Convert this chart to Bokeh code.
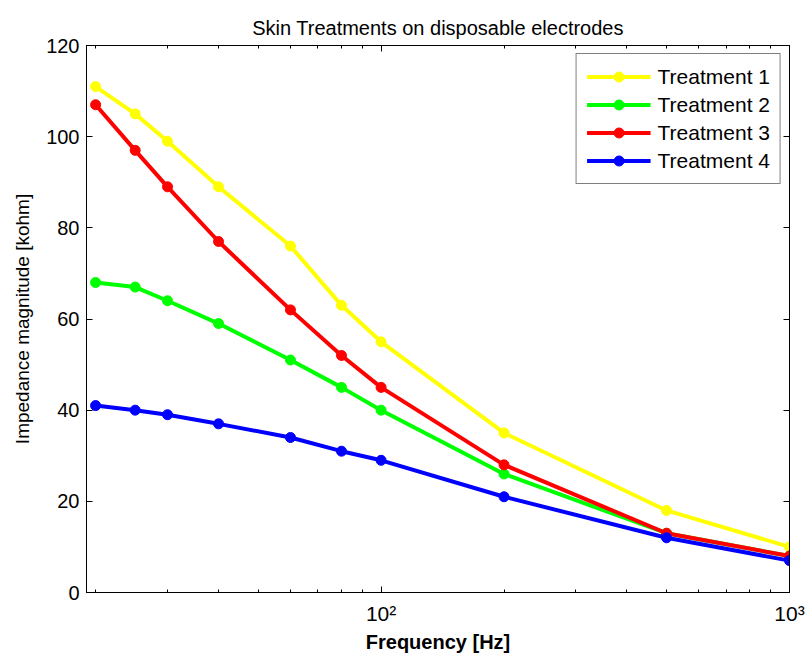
from bokeh.plotting import figure
from bokeh.models import Range1d, FixedTicker, LinearAxis, LogAxis, Legend, LegendItem
from bokeh.embed import file_html
from bokeh.resources import INLINE

freq = [20, 25, 30, 40, 60, 80, 100, 200, 500, 1000]
treatment_1 = [111, 105, 99, 89, 76, 63, 55, 35, 18, 10]
treatment_2 = [68, 67, 64, 59, 51, 45, 40, 26, 13, 8]
treatment_3 = [107, 97, 89, 77, 62, 52, 45, 28, 13, 8]
treatment_4 = [41, 40, 39, 37, 34, 31, 29, 21, 12, 7]
series = [treatment_1, treatment_2, treatment_3, treatment_4]
names = ["Treatment 1", "Treatment 2", "Treatment 3", "Treatment 4"]
colors = ["#ffff00", "#00ff00", "#ff0000", "#0000ff"]

x_major = [100, 1000]
x_minor = [20, 30, 40, 50, 60, 70, 80, 90, 200, 300, 400, 500, 600, 700, 800, 900]
x_labels = {100: "10²", 1000: "10³"}
y_ticks = [0, 20, 40, 60, 80, 100, 120]

FONT = "Liberation Sans"

p = figure(width=806, height=660, x_axis_type="log",
           x_range=Range1d(19, 1000), y_range=Range1d(0, 120),
           output_backend="svg", toolbar_location=None,
           min_border_left=86, min_border_right=17,
           min_border_top=45, min_border_bottom=68,
           title="Skin Treatments on disposable electrodes")

p.title.align = "center"
p.title.text_font = FONT
p.title.text_font_size = "20px"
p.title.text_font_style = "normal"
p.title.text_color = "black"
p.title.standoff = 14

p.xgrid.visible = False
p.ygrid.visible = False
p.outline_line_color = "black"
p.outline_line_width = 1
p.background_fill_color = "white"
p.border_fill_color = "white"

xt = FixedTicker(ticks=x_major, minor_ticks=x_minor)
yt = FixedTicker(ticks=y_ticks, minor_ticks=[])

def style_axis(ax, labels=True):
    ax.axis_line_color = "black"
    ax.major_tick_in = 6
    ax.major_tick_out = 0
    ax.minor_tick_in = 3
    ax.minor_tick_out = 0
    ax.major_tick_line_color = "black"
    ax.minor_tick_line_color = "black"
    ax.major_label_text_font = FONT
    ax.major_label_text_color = "black"
    ax.axis_label_text_font = FONT
    ax.axis_label_text_color = "black"
    if not labels:
        ax.major_label_text_font_size = "1px"
        ax.major_label_text_color = None
        ax.major_label_standoff = 0

xa = p.xaxis[0]
xa.ticker = xt
xa.major_label_overrides = x_labels
style_axis(xa)
xa.major_label_text_font_size = "21px"
xa.major_label_standoff = 9
xa.axis_label = "Frequency [Hz]"
xa.axis_label_text_font_size = "20px"
xa.axis_label_text_font_style = "bold"
xa.axis_label_standoff = 3

ya = p.yaxis[0]
ya.ticker = yt
style_axis(ya)
ya.major_label_text_font_size = "20px"
ya.major_label_standoff = 7
ya.axis_label = "Impedance magnitude [kohm]"
ya.axis_label_text_font_size = "19px"
ya.axis_label_text_font_style = "normal"
ya.axis_label_standoff = 10

top = LogAxis(ticker=xt)
style_axis(top, labels=False)
p.add_layout(top, "above")
right = LinearAxis(ticker=yt)
style_axis(right, labels=False)
p.add_layout(right, "right")

items = []
for vals, name, col in zip(series, names, colors):
    ln = p.line(freq, vals, line_color=col, line_width=4)
    sc = p.scatter(freq, vals, marker="circle", size=10, fill_color=col, line_color=col)
    items.append(LegendItem(label=name, renderers=[ln, sc]))

legend = Legend(items=items, location="top_right")
legend.label_text_font = FONT
legend.label_text_font_size = "21px"
legend.label_text_color = "black"
legend.glyph_width = 64
legend.glyph_height = 25
legend.label_height = 25
legend.spacing = 3
legend.padding = 10
legend.label_standoff = 7
legend.margin = 8
legend.border_line_color = "black"
legend.border_line_width = 1
legend.background_fill_color = "white"
legend.background_fill_alpha = 1
p.add_layout(legend)

open("out.html", "w").write(file_html(p, INLINE))
